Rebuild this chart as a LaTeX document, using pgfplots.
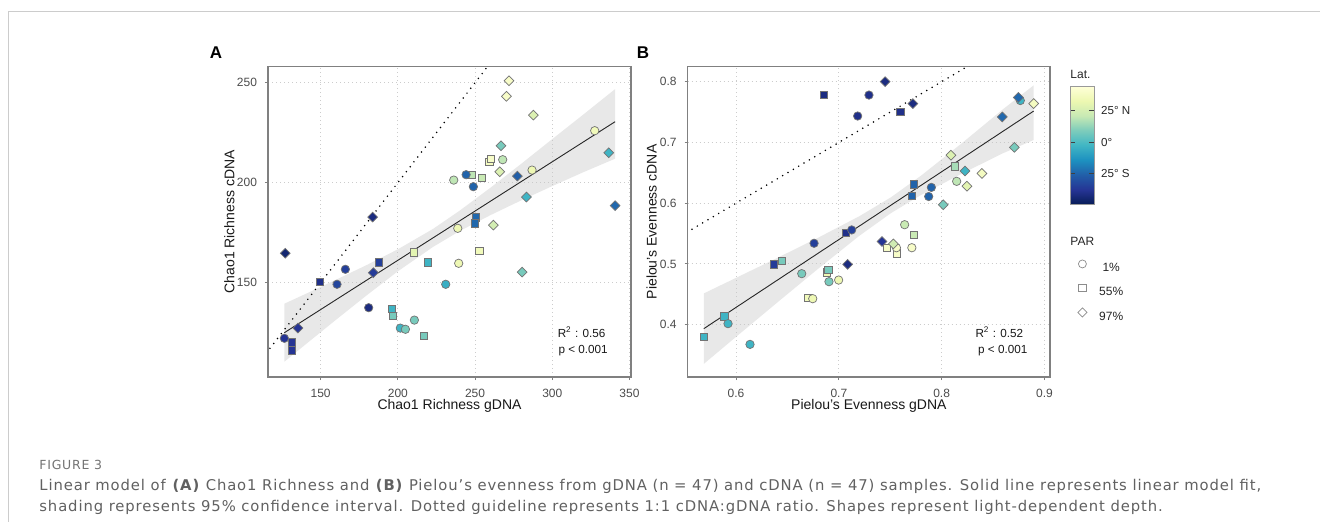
\documentclass[border=0pt]{standalone}
\usepackage{fontspec}
\setmainfont{Liberation Sans}
\newfontfamily\capfont[LetterSpace=6]{DejaVu Sans}
\usepackage{pgfplots}
\pgfplotsset{compat=1.18}

\pgfdeclareplotmark{rdiamond*}{%
 \pgfpathmoveto{\pgfqpoint{0pt}{\pgfplotmarksize}}%
 \pgfpathlineto{\pgfqpoint{\pgfplotmarksize}{0pt}}%
 \pgfpathlineto{\pgfqpoint{0pt}{-\pgfplotmarksize}}%
 \pgfpathlineto{\pgfqpoint{-\pgfplotmarksize}{0pt}}%
 \pgfpathclose\pgfusepathqfillstroke}

\pgfplotsset{colormap={ylgnbu}{rgb255=(8,29,88) rgb255=(37,52,148) rgb255=(34,94,168) rgb255=(29,145,192) rgb255=(65,182,196) rgb255=(127,205,187) rgb255=(199,233,180) rgb255=(237,248,177) rgb255=(255,255,217)}}

\tikzset{note/.style={font=\fontsize{5.85}{7}\selectfont, text=black!90}}
\pgfplotsset{
 panel/.style={scale only axis, anchor=south west,
   axis line style={black!50, line width=0.6pt},
   tick align=outside, xtick pos=bottom, ytick pos=left,
   major tick length=1.6pt, tick style={black!50, line width=0.5pt},
   xmajorgrids, ymajorgrids,
   major grid style={black!20, line width=0.5pt, dash pattern=on 0.5pt off 1.5pt},
   ticklabel style={font=\fontsize{6}{7}\selectfont, text=black!70},
   xticklabel style={yshift=-0.75pt}, yticklabel style={xshift=-0.4pt},
   /pgf/number format/assume math mode=true,
   label style={font=\fontsize{7}{8}\selectfont, text=black!90},
   colormap name=ylgnbu, point meta min=-50, point meta max=45},
 pts/.style={scatter, only marks, mark=#1, point meta=explicit,
   scatter/use mapped color={draw=black!55, fill=mapped color, line width=0.35pt}},
 band/.style={draw=none, fill=black!22, fill opacity=0.4},
 fit/.style={black!85, line width=0.45pt},
 guide/.style={black, line width=0.85pt, line cap=round, dash pattern=on 0pt off 3.1pt},
}

\begin{document}
\begin{tikzpicture}
\useasboundingbox (0,0) rectangle (660pt,-261pt);
\fill[white] (0,0) rectangle (660pt,-261pt);
\draw[black!20, line width=0.75pt] (4.2pt,-270pt) |- (670pt,-5.8pt);

\node[font=\bfseries\fontsize{8.5}{9}\selectfont] at (108pt,-26.5pt) {A};
\node[font=\bfseries\fontsize{8.5}{9}\selectfont] at (321.5pt,-26.5pt) {B};

% ---------------- Panel A ----------------
\begin{axis}[panel, at={(134pt,-188.5pt)}, width=181.5pt, height=155.15pt,
  xmin=115.9, xmax=351.0, ymin=102.85, ymax=258.0,
  xtick={150,200,250,300,350}, ytick={150,200,250},
  xlabel={Chao1 Richness gDNA}, ylabel={Chao1 Richness cDNA},
  xlabel style={at={(axis description cs:0.5,-0.0925)}, anchor=center},
  ylabel style={at={(axis description cs:-0.1066,0.5)}, anchor=center}]
\addplot[band] coordinates {(126.5,139.5) (140,144.3) (160,151.5) (180,158.9) (200,166.7) (222.8,176.9) (240,186.0) (260,197.5) (280,209.5) (300,221.8) (320,234.0) (340.7,246.8)
 (340.7,212.0) (320,205.2) (300,198.3) (280,191.2) (260,183.8) (240,175.8) (222.8,167.9) (200,155.7) (180,143.8) (160,131.5) (140,119.0) (126.5,110.5)} -- cycle;
\addplot[guide] coordinates {(100,100) (300,300)};
\addplot[fit] coordinates {(126.5,125.0) (340.7,230.5)};
\addplot[pts=square*, mark size=1.85pt] table[x=x, y=y, meta=lat] {
x y lat
247.6 204.0 20
254.3 202.3 22
259.3 210.5 38
260.2 211.8 40
250.6 182.7 -24
250.0 179.7 -24
210.5 165.2 30
252.8 165.8 36
219.5 160.2 -3
187.6 160.2 -35
149.6 150.5 -40
196.0 136.8 -3
196.7 133.3 8
217.0 123.5 8
131.2 120.2 -38
131.2 116.2 -38
};
\addplot[pts=*, mark size=2.1pt] table[x=x, y=y, meta=lat] {
x y lat
327.5 226.0 36
267.9 211.5 20
286.9 206.3 34
236.2 201.3 20
244.2 204.0 -25
248.9 198.0 -25
238.8 177.2 34
239.4 159.7 34
166.0 156.7 -35
160.6 149.2 -33
181.1 137.5 -42
231.0 149.2 -5
210.7 131.3 8
201.6 127.3 -3
204.9 126.7 8
126.5 122.2 -38
};
\addplot[pts=rdiamond*, mark size=2.45pt] table[x=x, y=y, meta=lat] {
x y lat
272.0 251.0 40
270.3 243.2 40
287.8 233.8 28
266.8 218.5 8
266.0 205.5 28
277.4 203.3 -26
283.3 192.8 -3
336.6 215.0 -3
340.7 188.5 -24
261.9 178.8 25
280.5 155.3 8
183.7 182.8 -42
127.1 164.7 -45
184.1 155.0 -36
135.3 127.3 -38
};
\node[note] at (axis cs:319.0,125.2) {R\textsuperscript{2} : 0.56};
\node[note] at (axis cs:320.0,116.0) {p < 0.001};
\end{axis}

% ---------------- Panel B ----------------
\begin{axis}[panel, at={(343.85pt,-188.5pt)}, width=181.15pt, height=155.15pt,
  xmin=0.5530, xmax=0.9054, ymin=0.3139, ymax=0.8247,
  xtick={0.6,0.7,0.8,0.9}, xticklabels={0.6,0.7,0.8,0.9},
  ytick={0.4,0.5,0.6,0.7,0.8}, yticklabels={0.4,0.5,0.6,0.7,0.8},
  xlabel={Pielou's Evenness gDNA}, ylabel={Pielou's Evenness cDNA},
  xlabel style={at={(axis description cs:0.5,-0.0925)}, anchor=center},
  ylabel style={at={(axis description cs:-0.0994,0.5)}, anchor=center}]
\addplot[band] coordinates {(0.5686,0.4514) (0.60,0.4771) (0.64,0.5098) (0.68,0.5433) (0.72,0.5786) (0.7507,0.6097) (0.78,0.6454) (0.82,0.6992) (0.86,0.7551) (0.8895,0.7940)
 (0.8895,0.7040) (0.86,0.6825) (0.82,0.6490) (0.78,0.6136) (0.7507,0.5837) (0.72,0.5464) (0.68,0.4923) (0.64,0.4364) (0.60,0.3800) (0.5686,0.3354)} -- cycle;
\addplot[guide] coordinates {(0.5,0.5) (0.9,0.9)};
\addplot[fit] coordinates {(0.5686,0.3934) (0.8895,0.7517)};
\addplot[pts=square*, mark size=1.85pt] table[x=x, y=y, meta=lat] {
x y lat
0.6853 0.778 -42
0.7598 0.7506 -40
0.7728 0.631 -25
0.7711 0.6123 -25
0.8126 0.6606 16
0.7070 0.5509 -40
0.7731 0.548 22
0.7468 0.5267 40
0.7562 0.5174 40
0.6370 0.4993 -36
0.6447 0.5048 8
0.6882 0.4862 34
0.6898 0.490 8
0.6703 0.4439 36
0.5887 0.4137 -3
0.5686 0.3797 -3
};
\addplot[pts=*, mark size=2.1pt] table[x=x, y=y, meta=lat] {
x y lat
0.7293 0.778 -40
0.7183 0.7435 -40
0.7900 0.626 -25
0.7874 0.611 -25
0.8146 0.636 20
0.7125 0.556 -35
0.6759 0.534 -35
0.7640 0.5646 22
0.7560 0.5267 40
0.7710 0.5267 40
0.6639 0.484 8
0.6998 0.4735 34
0.6904 0.4708 8
0.6746 0.4428 34
0.5922 0.4017 -3
0.6136 0.3676 -3
0.8765 0.769 -3
};
\addplot[pts=rdiamond*, mark size=2.45pt] table[x=x, y=y, meta=lat] {
x y lat
0.745 0.800 -42
0.772 0.764 -42
0.8746 0.774 -24
0.8895 0.764 38
0.859 0.742 -24
0.8707 0.692 8
0.809 0.679 28
0.8227 0.653 -3
0.8392 0.649 38
0.8246 0.628 30
0.8016 0.5975 8
0.742 0.537 -38
0.753 0.533 24
0.7086 0.4993 -42
};
\node[note] at (axis cs:0.8561,0.3875) {R\textsuperscript{2} : 0.52};
\node[note] at (axis cs:0.8594,0.3572) {p < 0.001};
\end{axis}

% ---------------- Colour bar and shape legend ----------------
\begin{axis}[at={(535pt,-102.15pt)}, anchor=south west, scale only axis,
  width=12.15pt, height=59.15pt, xmin=0, xmax=1, ymin=-50, ymax=45,
  axis on top, xtick=\empty, ytick={-25,0,25}, yticklabels={25° S,0°,25° N},
  yticklabel pos=right, tick align=inside, major tick length=2.5pt,
  tick style={black!75, line width=0.5pt}, axis line style={black!40, line width=0.3pt},
  ticklabel style={font=\fontsize{5.8}{7}\selectfont, text=black!85},
  yticklabel style={anchor=west, inner sep=0pt, xshift=3.2pt},
  /pgf/number format/assume math mode=true,
  colormap name=ylgnbu, point meta min=-50, point meta max=45,
  legend style={at={(axis description cs:0.1646,-0.4675)}, anchor=north west,
    draw=none, fill=none, inner sep=0pt, outer sep=0pt, row sep=5pt,
    nodes={inner sep=0pt, text height=4.5pt, text depth=1pt, font=\fontsize{6}{7}\selectfont, text=black!85},
    /tikz/every odd column/.style={column sep=4.2pt}}]
\addplot[surf, shader=interp, point meta=y, mesh/cols=2, forget plot] coordinates {
(0,-50) (1,-50)
(0,-38.125) (1,-38.125)
(0,-26.25) (1,-26.25)
(0,-14.375) (1,-14.375)
(0,-2.5) (1,-2.5)
(0,9.375) (1,9.375)
(0,21.25) (1,21.25)
(0,33.125) (1,33.125)
(0,45) (1,45)};
\addlegendimage{legend image code/.code={\path (-4pt,0pt) (4pt,0pt); \draw[black!45, line width=0.35pt] (0pt,2.15pt) circle (2pt);}}
\addlegendentry{1\%}
\addlegendimage{legend image code/.code={\path (-4pt,0pt) (4pt,0pt); \draw[black!45, line width=0.35pt] (-1.8pt,0.35pt) rectangle (1.8pt,3.95pt);}}
\addlegendentry{55\%}
\addlegendimage{legend image code/.code={\path (-4pt,0pt) (4pt,0pt); \draw[black!45, line width=0.35pt] (0pt,4.45pt) -- (2.3pt,2.15pt) -- (0pt,-0.15pt) -- (-2.3pt,2.15pt) -- cycle;}}
\addlegendentry{97\%}
\end{axis}
\node[anchor=west, inner sep=0pt, font=\fontsize{6}{7}\selectfont, text=black!85] at (535pt,-37pt) {Lat.};
\node[anchor=west, inner sep=0pt, font=\fontsize{6}{7}\selectfont, text=black!85] at (535pt,-120.85pt) {PAR};

% ---------------- Caption ----------------
\node[anchor=base west, inner sep=0pt, font=\capfont\fontsize{6.25}{7}\selectfont, text=black!55] at (19.5pt,-234.75pt) {FIGURE 3};
\node[anchor=base west, inner sep=0pt, font=\capfont\fontsize{7.4}{8}\selectfont, text=black!62] at (19.5pt,-245.35pt) {Linear model of \textbf{(A)} Chao1 Richness and \textbf{(B)} Pielou’s evenness from gDNA (n = 47) and cDNA (n = 47) samples. Solid line represents linear model fit,};
\node[anchor=base west, inner sep=0pt, font=\capfont\fontsize{7.4}{8}\selectfont, text=black!62] at (19.5pt,-255.85pt) {shading represents 95\% confidence interval. Dotted guideline represents 1:1 cDNA:gDNA ratio. Shapes represent light-dependent depth.};
\end{tikzpicture}
\end{document}
